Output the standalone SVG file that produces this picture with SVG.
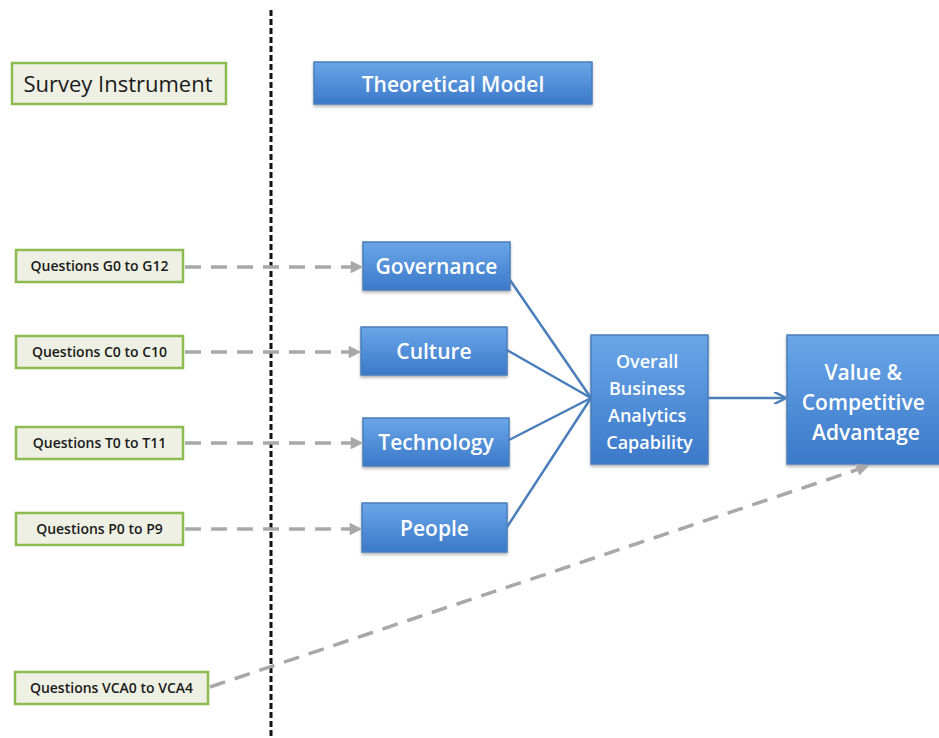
<svg xmlns="http://www.w3.org/2000/svg" width="939" height="738" viewBox="0 0 939 738">
  <defs>
    <linearGradient id="blueFill" x1="0" y1="0" x2="0" y2="1">
      <stop offset="0" stop-color="#6aa6e8"/>
      <stop offset="1" stop-color="#3b79c9"/>
    </linearGradient>
    <filter id="shadow" x="-10%" y="-10%" width="120%" height="130%">
      <feDropShadow dx="0" dy="2" stdDeviation="1.5" flood-color="#000" flood-opacity="0.3"/>
    </filter>
    <marker id="grayHead" viewBox="0 0 10 10" refX="9" refY="5" markerWidth="4" markerHeight="3.6" orient="auto" markerUnits="strokeWidth">
      <path d="M0,0 L10,5 L0,10 z" fill="#a8a8a8"/>
    </marker>
    <marker id="blueHead" viewBox="0 0 10 10" refX="9" refY="5" markerWidth="5" markerHeight="5" orient="auto" markerUnits="strokeWidth">
      <path d="M0,0 L10,5 L0,10" fill="none" stroke="#4a7ebb" stroke-width="2"/>
    </marker>
  </defs>
  <style>
    .survey rect { fill: #eef0e3; stroke: #8cbb50; stroke-width: 2.5; }
    .survey text { font-family: "Open Sans", "Noto Sans", sans-serif; fill: #1a1a1a; text-anchor: middle; }
    .model rect { fill: url(#blueFill); stroke: #4a7ebb; stroke-width: 1.5; filter: url(#shadow); }
    .model text { font-family: "Open Sans", "Noto Sans", sans-serif; fill: #ffffff; text-anchor: middle; font-weight: 600; }
    .q { font-size: 14px; font-weight: 600; }
    .dash { fill: none; stroke: #a8a8a8; stroke-width: 3.5; stroke-dasharray: 16 10; marker-end: url(#grayHead); }
    .link { fill: none; stroke: #4a7ebb; stroke-width: 2.5; }
  </style>
  <rect width="939" height="738" fill="#ffffff"/>

  <!-- vertical divider -->
  <line x1="271" y1="10" x2="271" y2="738" stroke="#111" stroke-width="3" stroke-dasharray="6 3"/>

  <!-- headers -->
  <g id="survey-instrument" class="survey">
    <rect x="12" y="63" width="214" height="41"/>
    <text x="118" y="92" font-size="22">Survey Instrument</text>
  </g>
  <g id="theoretical-model" class="model">
    <rect x="314" y="62" width="278" height="42"/>
    <text x="453" y="92" font-size="21">Theoretical Model</text>
  </g>

  <!-- question groups -->
  <g id="q-governance" class="survey">
    <rect x="16" y="250" width="167" height="32"/>
    <text class="q" x="99.5" y="271">Questions G0 to G12</text>
  </g>
  <g id="q-culture" class="survey">
    <rect x="16" y="336" width="167" height="32"/>
    <text class="q" x="99.5" y="357">Questions C0 to C10</text>
  </g>
  <g id="q-technology" class="survey">
    <rect x="16" y="427" width="167" height="32"/>
    <text class="q" x="99.5" y="448">Questions T0 to T11</text>
  </g>
  <g id="q-people" class="survey">
    <rect x="16" y="513" width="167" height="32"/>
    <text class="q" x="99.5" y="534">Questions P0 to P9</text>
  </g>
  <g id="q-value" class="survey">
    <rect x="15" y="672" width="193" height="32"/>
    <text class="q" x="111.5" y="693">Questions VCA0 to VCA4</text>
  </g>

  <!-- model constructs -->
  <g id="governance" class="model">
    <rect x="363" y="242" width="147" height="48"/>
    <text x="436.5" y="274" font-size="21">Governance</text>
  </g>
  <g id="culture" class="model">
    <rect x="361" y="327" width="146" height="48"/>
    <text x="434" y="359" font-size="21">Culture</text>
  </g>
  <g id="technology" class="model">
    <rect x="363" y="418" width="146" height="48"/>
    <text x="436" y="450" font-size="21">Technology</text>
  </g>
  <g id="people" class="model">
    <rect x="362" y="503" width="145" height="49"/>
    <text x="434.5" y="536" font-size="21">People</text>
  </g>
  <g id="overall-capability" class="model">
    <rect x="591" y="335" width="117" height="129"/>
    <text font-size="18">
      <tspan x="649.5" y="368">Overall</tspan>
      <tspan x="649.5" y="395">Business</tspan>
      <tspan x="649.5" y="422">Analytics</tspan>
      <tspan x="649.5" y="449">Capability</tspan>
    </text>
  </g>
  <g id="value-advantage" class="model">
    <rect x="787" y="335" width="160" height="129"/>
    <text font-size="21">
      <tspan x="866" y="380">Value &amp;</tspan>
      <tspan x="866" y="410">Competitive</tspan>
      <tspan x="866" y="440">Advantage</tspan>
    </text>
  </g>

  <!-- connectors -->
  <g id="connectors">
    <line class="dash" x1="185" y1="267" x2="362" y2="267"/>
    <line class="dash" x1="185" y1="352" x2="360" y2="352"/>
    <line class="dash" x1="185" y1="443" x2="362" y2="443"/>
    <line class="dash" x1="185" y1="529" x2="361" y2="529"/>
    <line class="dash" x1="210" y1="687" x2="868" y2="466"/>

    <line class="link" x1="510" y1="280" x2="591" y2="398"/>
    <line class="link" x1="507" y1="350" x2="591" y2="398"/>
    <line class="link" x1="509" y1="440" x2="591" y2="398"/>
    <line class="link" x1="507" y1="527" x2="591" y2="398"/>
    <line class="link" x1="708" y1="398" x2="785" y2="398" marker-end="url(#blueHead)"/>
  </g>
</svg>
